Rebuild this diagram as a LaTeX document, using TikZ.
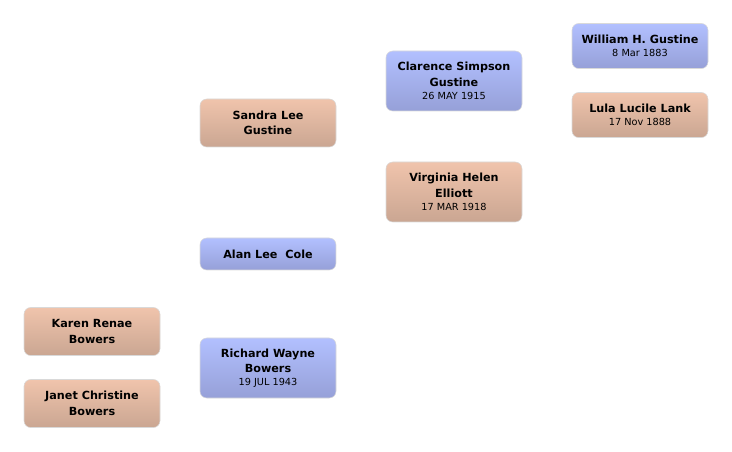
\documentclass[tikz,border=0pt]{standalone}
\usepackage{fontspec}
\setmainfont{DejaVu Sans}
\definecolor{bluetop}{RGB}{178,192,255}
\definecolor{bluebot}{RGB}{150,160,216}
\definecolor{saltop}{RGB}{240,196,172}
\definecolor{salbot}{RGB}{202,166,146}
\tikzset{
  box/.style={rectangle, rounded corners=5pt, minimum width=102pt, inner sep=0pt,
    align=center, font=\bfseries\fontsize{8.4}{11.7}\selectfont, text=black,
    draw=white!70!gray, line width=0.4pt},
  male/.style={box, top color=bluetop, bottom color=bluebot},
  female/.style={box, top color=saltop, bottom color=salbot},
  h45/.style={minimum height=33.75pt},
  h60/.style={minimum height=45pt},
  h48/.style={minimum height=36pt},
  h32/.style={minimum height=24pt},
}
\newcommand{\dt}[1]{\\[-2pt]{\mdseries\fontsize{7.3}{9}\selectfont #1}}
\begin{document}
\begin{tikzpicture}[x=0.75pt,y=-0.75pt]
\useasboundingbox (0,0) rectangle (732,452);
\node[male,h45] (william) at (640,46) {William H. Gustine\dt{8 Mar 1883}};
\node[female,h45] (lula) at (640,115) {Lula Lucile Lank\dt{17 Nov 1888}};
\node[male,h60] (clarence) at (454,81) {Clarence Simpson\\Gustine\dt{26 MAY 1915}};
\node[female,h60] (virginia) at (454,192) {Virginia Helen\\Elliott\dt{17 MAR 1918}};
\node[female,h48] (sandra) at (268,123) {Sandra Lee\\Gustine};
\node[male,h32] (alan) at (268,254) {Alan Lee\ \ Cole};
\node[male,h60] (richard) at (268,368) {Richard Wayne\\Bowers\dt{19 JUL 1943}};
\node[female,h48] (karen) at (92,331.5) {Karen Renae\\Bowers};
\node[female,h48] (janet) at (92,403.5) {Janet Christine\\Bowers};
\end{tikzpicture}
\end{document}
